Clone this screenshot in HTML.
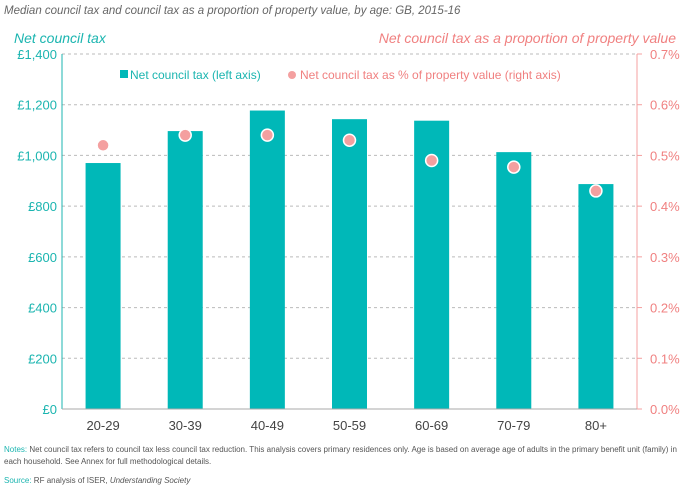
<!DOCTYPE html>
<html><head><meta charset="utf-8"><style>
body{margin:0;background:#fff;font-family:"Liberation Sans",sans-serif;}
svg text{font-family:"Liberation Sans",sans-serif;}
</style></head><body>
<svg width="691" height="488" id="c">
<text x="4" y="14" font-size="11.5" font-style="italic" fill="#666">Median council tax and council tax as a proportion of property value, by age: GB, 2015-16</text>
<text x="14" y="43" font-size="14" font-style="italic" fill="#1bb5b0">Net council tax</text>
<text x="676" y="43" font-size="14" font-style="italic" fill="#f08080" text-anchor="end">Net council tax as a proportion of property value</text>
<g id="grid"></g><g id="bars"></g><g id="dots"></g>
<line x1="62" y1="54" x2="62" y2="409" stroke="#1bb5b0"/>
<line x1="637" y1="54" x2="637" y2="409" stroke="#f4a0a0"/>
<line x1="62" y1="409" x2="637" y2="409" stroke="#aaa"/>
<g>
<rect x="120" y="70" width="8" height="8" fill="#00b8b8"/>
<text x="130" y="79" font-size="12" fill="#1bb5b0">Net council tax (left axis)</text>
<circle cx="292" cy="75" r="4" fill="#f4a0a0"/>
<text x="300" y="79" font-size="12" fill="#f08080">Net council tax as % of property value (right axis)</text>
</g>
<text x="4" y="452" font-size="8" fill="#555"><tspan fill="#1bb5b0">Notes:</tspan> Net council tax refers to council tax less council tax reduction. This analysis covers primary residences only. Age is based on average age of adults in the primary benefit unit (family) in</text>
<text x="4" y="464" font-size="8" fill="#555">each household. See Annex for full methodological details.</text>
<text x="4" y="483" font-size="8" fill="#555"><tspan fill="#1bb5b0">Source:</tspan> RF analysis of ISER, <tspan font-style="italic">Understanding Society</tspan></text>
</svg>
<script>
const categories=["20-29","30-39","40-49","50-59","60-69","70-79","80+"];
const taxValues=[970,1096,1177,1143,1137,1013,887];
const pctValues=[0.52,0.54,0.54,0.53,0.49,0.477,0.43];
const leftTicks=[0,200,400,600,800,1000,1200,1400];
const leftTickLabels=["£0","£200","£400","£600","£800","£1,000","£1,200","£1,400"];
const rightTickLabels=["0.0%","0.1%","0.2%","0.3%","0.4%","0.5%","0.6%","0.7%"];
const NS="http://www.w3.org/2000/svg";
const x0=62,x1=637,yB=409,yT=54;
const yL=v=>yB-(v/1400)*(yB-yT);
const yR=v=>yB-(v/0.7)*(yB-yT);
const band=(x1-x0)/categories.length;
const xC=i=>x0+band*(i+0.5);
function mk(t,a,p){const e=document.createElementNS(NS,t);for(const k in a)e.setAttribute(k,a[k]);p.appendChild(e);return e;}
const g=document.getElementById('grid'),b=document.getElementById('bars'),d=document.getElementById('dots'),svg=document.getElementById('c');
leftTicks.forEach((v,i)=>{const y=yL(v);
 if(i>0){const l=mk('line',{x1:x0,x2:x1,y1:y,y2:y,stroke:'#bbb','stroke-dasharray':'3,3'},g);
 
 }
 const t=mk('text',{x:57,y:y+5,'font-size':13,fill:'#1bb5b0','text-anchor':'end'},svg);t.textContent=leftTickLabels[i];
 
 
 const r=mk('text',{x:650,y:y+5,'font-size':13,fill:'#f08080'},svg);r.textContent=rightTickLabels[i];
 
 
 const tk=mk('line',{x1:637,x2:642,y1:y,y2:y,stroke:'#f4a0a0'},svg);
 
 
});
categories.forEach((c,i)=>{const cx=xC(i);
 const r=mk('rect',{x:cx-17.5,y:yL(taxValues[i]),width:35,height:yB-yL(taxValues[i]),fill:'#00b8b8'},b);
 
 
 const o=mk('circle',{cx:cx,cy:yR(pctValues[i]),r:6,fill:'#f4a0a0',stroke:'#fff','stroke-width':1.5},d);
 
 
 const t=mk('text',{x:cx,y:430,'font-size':13,fill:'#444','text-anchor':'middle'},svg);t.textContent=c;
 
 
});
</script>
</body></html>
